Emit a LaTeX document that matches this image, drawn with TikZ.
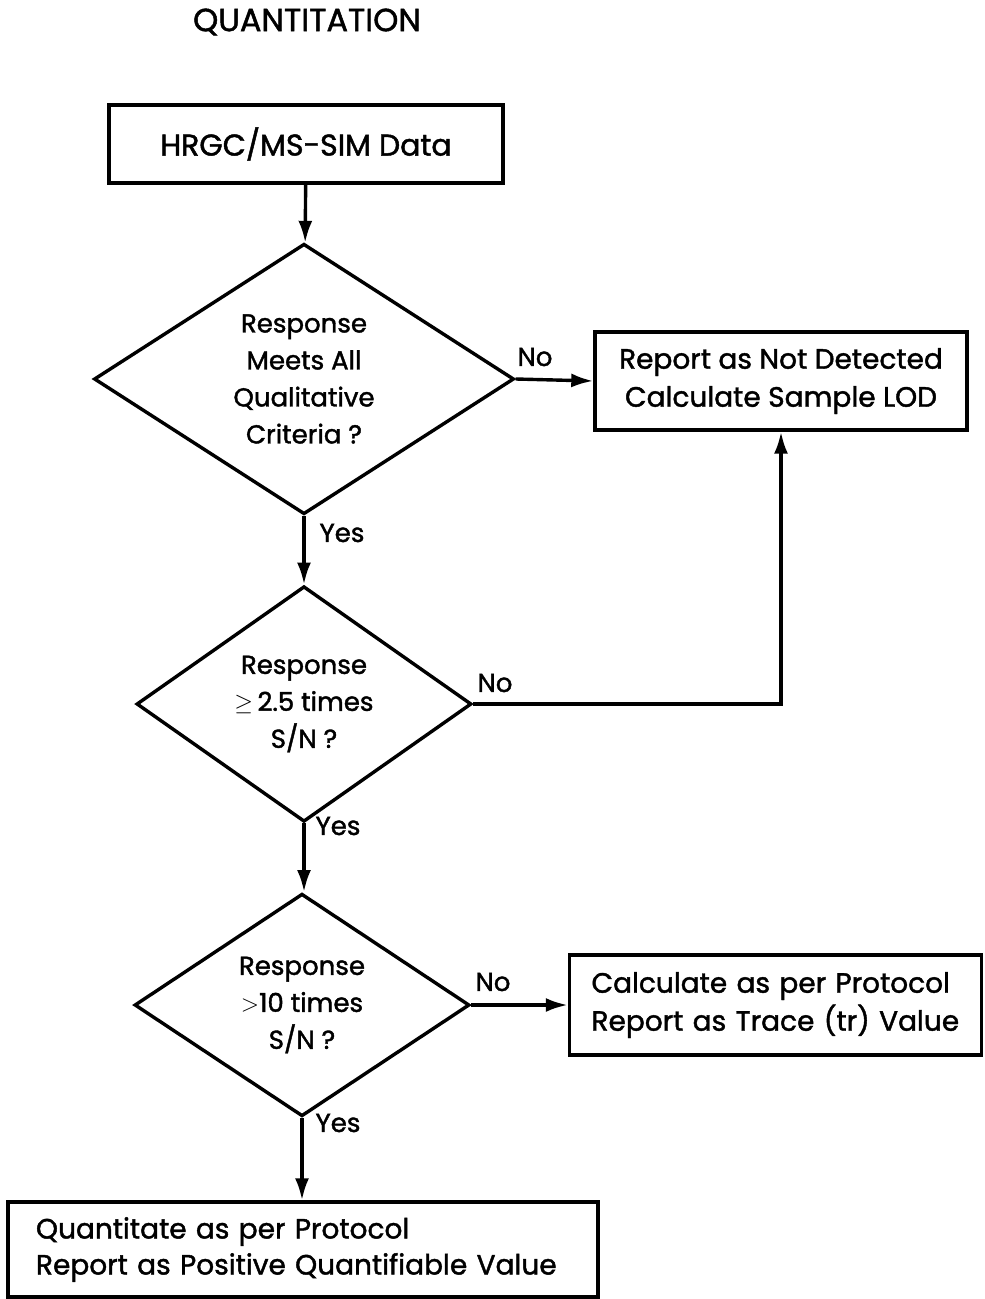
\documentclass[tikz,border=0pt]{standalone}
\usepackage{fontspec}
\setmainfont{Poppins}[FakeBold=1.5]
\newfontfamily\heavy{Poppins}[FakeBold=1.5]
\usepackage{tikz}
\usetikzlibrary{positioning,arrows.meta,shapes.geometric,calc}

\begin{document}
\begin{tikzpicture}[
  x=0.5pt, y=-0.5pt,
  font=\heavy\fontsize{13}{18.5}\selectfont,
  box/.style={draw, line width=1.7pt, inner sep=0pt},
  decision/.style={draw, diamond, line width=1.7pt, inner sep=0pt, align=center},
  flow/.style={-{Latex[length=11pt,width=7pt]}, line width=1.7pt},
  lbl/.style={inner sep=0pt}
]
\useasboundingbox (0,0) rectangle (984,1299);

% heading
\node[lbl, font=\heavy\fontsize{16}{18}\selectfont] (title) at (307,22) {QUANTITATION};

% boxes and decisions
\node[box, minimum width=197pt, minimum height=39pt, font=\heavy\fontsize{15}{18}\selectfont] (data) at (306,144) {HRGC/MS-SIM Data};
\node[decision, minimum width=210pt, minimum height=121pt] (crit) at (304,379)
  {Response\\Meets All\\Qualitative\\Criteria ?};
\node[box, minimum width=186pt, minimum height=49pt, align=center, font=\heavy\fontsize{14}{19}\selectfont] (lod) at (781,381)
  {Report as Not Detected\\Calculate Sample LOD};
\node[decision, minimum width=167.5pt, minimum height=97pt] (sn) at (304,704)
  {Response\\$\geq$\,2.5 times\\S/N ?};
\node[decision, minimum width=167.5pt, minimum height=98pt] (ten) at (302,1005)
  {Response\\$>$10 times\\S/N ?};
\node[box, minimum width=206pt, minimum height=50pt, align=left, text width=184pt, inner xsep=11pt, font=\heavy\fontsize{14}{19}\selectfont] (trace) at (775.5,1005)
  {Calculate as per Protocol\\Report as Trace (tr) Value};
\node[box, minimum width=295pt, minimum height=47.5pt, align=left, text width=267pt, inner xsep=14pt, font=\heavy\fontsize{14}{18}\selectfont] (quant) at (303,1249.5)
  {Quantitate as per Protocol\\Report as Positive Quantifiable Value};

% connectors
\draw[flow] (data) -- (crit);
\draw[flow] (crit.east) -- (lod.west);
\draw[flow] (crit.south) -- (crit.south |- sn.north);
\draw[flow] (sn.east) -| (lod.south);
\draw[flow] (sn.south) -- (sn.south |- ten.north);
\draw[flow] (ten.east) -- (trace.west);
\draw[flow] (ten.south) -- (ten.south |- quant.north);

% yes / no labels
\node[lbl] (no1) at (535,357) {No};
\node[lbl] (yes1) at (342,533) {Yes};
\node[lbl] (no2) at (495,683) {No};
\node[lbl] (yes2) at (338,826) {Yes};
\node[lbl] (no3) at (493,982) {No};
\node[lbl] (yes3) at (338,1123) {Yes};
\end{tikzpicture}
\end{document}
